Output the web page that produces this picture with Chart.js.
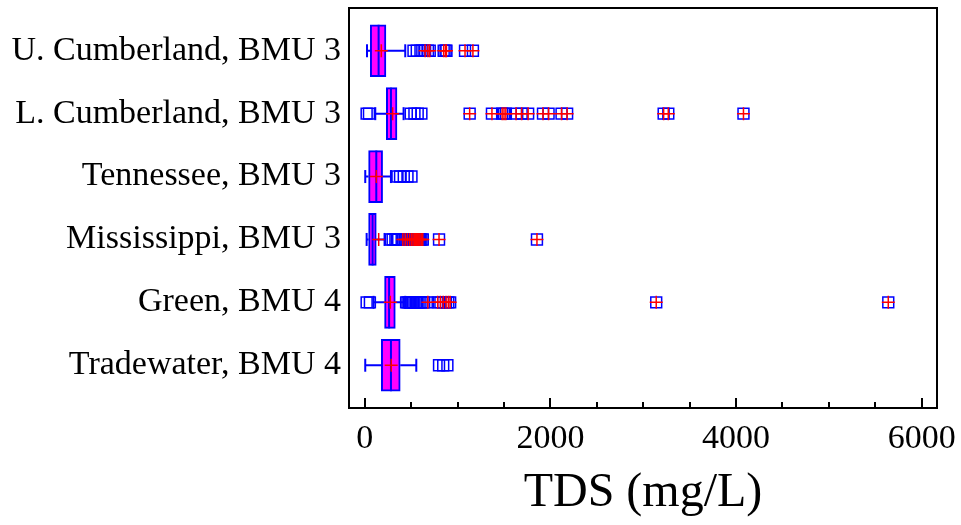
<!DOCTYPE html>
<html>
<head>
<meta charset="utf-8">
<title>TDS by basin</title>
<script src="https://cdn.jsdelivr.net/npm/chart.js@4/dist/chart.umd.min.js"></script>
<style>
  html, body { margin: 0; padding: 0; background: #fff; }
  canvas { display: block; }
</style>
</head>
<body>
<canvas id="chart" width="961" height="525"></canvas>
<script>
// Basins, top to bottom
const rowLabels = [
  'U. Cumberland, BMU 3',
  'L. Cumberland, BMU 3',
  'Tennessee, BMU 3',
  'Mississippi, BMU 3',
  'Green, BMU 4',
  'Tradewater, BMU 4'
];

// Box-and-whisker summary, TDS in mg/L
const whiskerLow  = [24, 113, 5, 20, 95, 5];
const q1          = [59, 232, 41, 41, 213, 178];
const median      = [149, 282, 124, 84, 262, 282];
const q3          = [228, 347, 192, 124, 329, 382];
const whiskerHigh = [436, 418, 282, 213, 436, 555];
const means       = [178, 300, 124, 150, 275, 285];

// Outside points (squares)
const outsidePoints = [
  [525, 560, 600, 620],
  [20, 45, 495, 535, 570, 610],
  [352, 380, 420, 460, 503],
  [280, 300, 330, 345, 360],
  [20, 55, 445, 460, 475, 490, 505, 520, 535, 550, 565, 580, 600, 620, 640],
  [800, 845, 890]
];

// Far outside points (squares with a plus)
const farPoints = [
  [650, 680, 700, 850, 870, 880, 1080, 1165],
  [1130, 1370, 1480, 1500, 1520, 1630, 1690, 1760, 1920, 1980, 2120, 2180, 3220, 3270, 4080],
  [],
  [410, 435, 460, 485, 505, 520, 535, 545, 555, 565, 575, 585, 595, 610, 625, 800, 1855],
  [680, 785, 815, 845, 875, 900, 920, 3140, 5640],
  []
];

const xTickValues = [0, 500, 1000, 1500, 2000, 2500, 3000, 3500, 4000, 4500, 5000, 5500, 6000];

const BLUE = '#0000ff';
const RED = '#ff0000';
const MAGENTA = '#ff00ff';
const FONT = 'Liberation Serif, Times New Roman, serif';

// Helpers that turn the arrays into {x, y} points
const rowPoints = (vals) => vals.map((v, i) => ({ x: v, y: i }));
const listPoints = (lists) => lists.flatMap((vals, i) => vals.map(v => ({ x: v, y: i })));
const whiskerSegments = rowLabels.flatMap((_, i) => [
  { x: whiskerLow[i], y: i }, { x: q1[i], y: i }, { x: null, y: i },
  { x: q3[i], y: i }, { x: whiskerHigh[i], y: i }, { x: null, y: i }
]);

// Frame round the plot and inward tick marks on the bottom axis
const framePlugin = {
  id: 'frame',
  afterDraw(chart) {
    const { ctx, chartArea: a } = chart;
    const xs = chart.scales.x;
    ctx.save();
    ctx.strokeStyle = '#000';
    ctx.lineWidth = 2;
    ctx.strokeRect(a.left, a.top, a.right - a.left, a.bottom - a.top);
    xs.ticks.forEach(t => {
      const px = Math.round(xs.getPixelForValue(t.value));
      const len = t.value % 2000 === 0 ? 10 : 6;
      ctx.beginPath();
      ctx.moveTo(px, a.bottom);
      ctx.lineTo(px, a.bottom - len);
      ctx.stroke();
    });
    ctx.restore();
  }
};

new Chart(document.getElementById('chart'), {
  type: 'bar',
  data: {
    datasets: [
      {
        type: 'bar',
        indexAxis: 'y',
        data: rowLabels.map((_, i) => ({ y: i, x: [q1[i], q3[i]] })),
        backgroundColor: MAGENTA,
        borderColor: BLUE,
        borderWidth: 2,
        borderSkipped: false,
        barThickness: 52,
        order: 8
      },
      {
        type: 'scatter',
        data: whiskerSegments,
        showLine: true,
        spanGaps: false,
        borderColor: BLUE,
        borderWidth: 2,
        pointRadius: 0,
        order: 9
      },
      {
        type: 'scatter',
        data: rowPoints(whiskerLow).concat(rowPoints(whiskerHigh)),
        pointStyle: 'line',
        pointRotation: 90,
        pointRadius: 6.5,
        pointBorderColor: BLUE,
        pointBorderWidth: 2,
        order: 7
      },
      {
        type: 'scatter',
        data: rowPoints(median),
        pointStyle: 'line',
        pointRotation: 90,
        pointRadius: 26,
        pointBorderColor: BLUE,
        pointBorderWidth: 2,
        order: 6
      },
      {
        type: 'scatter',
        data: rowPoints(means),
        pointStyle: 'cross',
        pointRadius: 6.5,
        pointBorderColor: RED,
        pointBorderWidth: 1.5,
        order: 5
      },
      {
        type: 'scatter',
        data: listPoints(outsidePoints).concat(listPoints(farPoints)),
        pointStyle: 'rect',
        pointRadius: 7.7,
        pointBackgroundColor: 'rgba(0,0,0,0)',
        pointBorderColor: BLUE,
        pointBorderWidth: 1.5,
        order: 4
      },
      {
        type: 'scatter',
        data: listPoints(farPoints),
        pointStyle: 'cross',
        pointRadius: 6.5,
        pointBorderColor: RED,
        pointBorderWidth: 1.5,
        order: 3
      }
    ]
  },
  options: {
    responsive: false,
    animation: false,
    events: [],
    layout: { autoPadding: false, padding: { top: 8, right: 24, bottom: 0, left: 0 } },
    plugins: { legend: { display: false }, tooltip: { enabled: false } },
    scales: {
      x: {
        type: 'linear',
        position: 'bottom',
        offset: false,
        bounds: 'data',
        min: -170,
        max: 6165,
        afterBuildTicks: s => { s.ticks = xTickValues.map(v => ({ value: v })); },
        afterFit: s => { s.height = 117; s.paddingLeft = 0; s.paddingRight = 0; },
        ticks: {
          callback: v => (v % 2000 === 0 ? String(v) : ''),
          font: { family: FONT, size: 34 },
          color: '#000',
          padding: 11,
          maxRotation: 0,
          autoSkip: false
        },
        grid: { display: false, drawTicks: false, offset: false },
        border: { display: false },
        title: {
          display: true,
          text: 'TDS (mg/L)',
          font: { family: FONT, size: 48 },
          color: '#000',
          padding: { top: 0, bottom: 3 }
        }
      },
      y: {
        type: 'linear',
        reverse: true,
        offset: false,
        bounds: 'data',
        min: -0.68,
        max: 5.68,
        afterBuildTicks: s => { s.ticks = rowLabels.map((_, i) => ({ value: i })); },
        afterFit: s => { s.width = 349; s.paddingTop = 0; s.paddingBottom = 0; },
        ticks: {
          callback: v => rowLabels[v],
          font: { family: FONT, size: 34 },
          color: '#000',
          padding: 8,
          autoSkip: false
        },
        grid: { display: false, drawTicks: false, offset: false },
        border: { display: false }
      }
    }
  },
  plugins: [framePlugin]
});
</script>
</body>
</html>
